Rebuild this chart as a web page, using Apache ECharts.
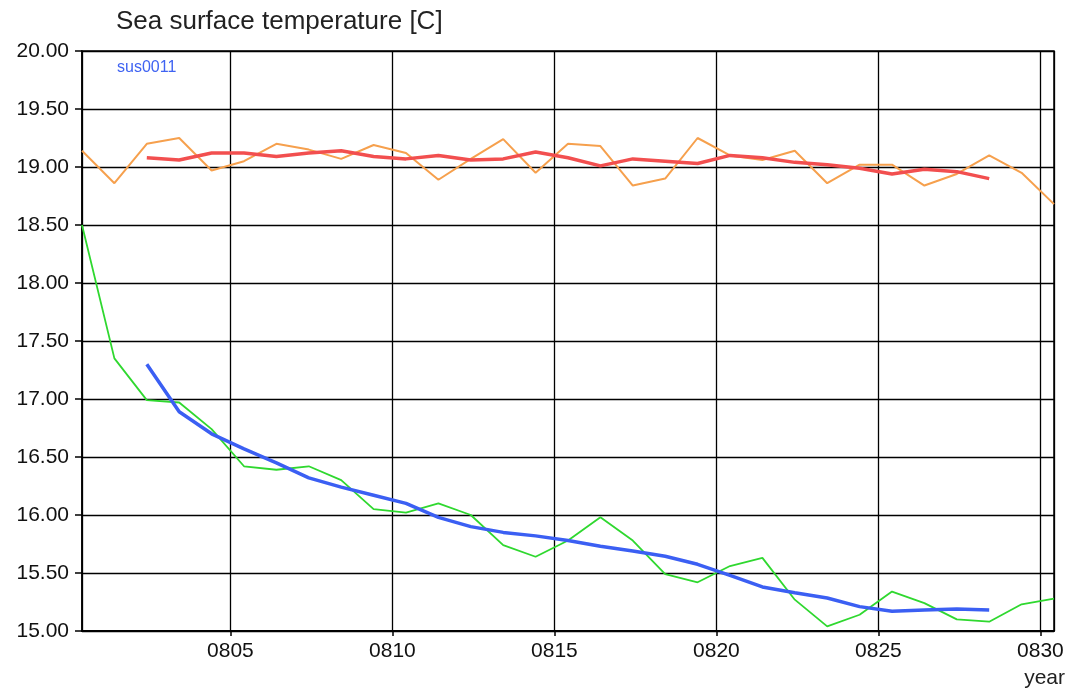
<!DOCTYPE html>
<html>
<head>
<meta charset="utf-8">
<title>Sea surface temperature</title>
<script src="https://cdn.jsdelivr.net/npm/echarts@6/dist/echarts.min.js"></script>
<style>
  html, body { margin: 0; padding: 0; background: #fff; }
  #chart { width: 1070px; height: 693px; }
</style>
</head>
<body>
<div id="chart"></div>
<script>
// Annual mean time stamps (model years)
const years = [
  800.42, 801.42, 802.42, 803.42, 804.42, 805.42, 806.42, 807.42, 808.42, 809.42,
  810.42, 811.42, 812.42, 813.42, 814.42, 815.42, 816.42, 817.42, 818.42, 819.42,
  820.42, 821.42, 822.42, 823.42, 824.42, 825.42, 826.42, 827.42, 828.42, 829.42,
  830.42
];

// Annual SST, upper run
const sstUpper = [
  19.14, 18.86, 19.20, 19.25, 18.97, 19.05, 19.20, 19.15, 19.07, 19.19,
  19.12, 18.89, 19.07, 19.24, 18.95, 19.20, 19.18, 18.84, 18.90, 19.25,
  19.10, 19.06, 19.14, 18.86, 19.02, 19.02, 18.84, 18.94, 19.10, 18.95,
  18.68
];
// Running mean of the upper run
const sstUpperMean = [
  null, null, 19.08, 19.06, 19.12, 19.12, 19.09, 19.12, 19.14, 19.09,
  19.07, 19.10, 19.06, 19.07, 19.13, 19.08, 19.01, 19.07, 19.05, 19.03,
  19.10, 19.08, 19.04, 19.02, 18.99, 18.94, 18.98, 18.96, 18.90, null,
  null
];
// Annual SST, lower run
const sstLower = [
  18.50, 17.35, 16.99, 16.97, 16.74, 16.42, 16.39, 16.42, 16.30, 16.05,
  16.02, 16.10, 16.00, 15.74, 15.64, 15.78, 15.98, 15.78, 15.49, 15.42,
  15.56, 15.63, 15.27, 15.04, 15.14, 15.34, 15.24, 15.10, 15.08, 15.23,
  15.28
];
// Running mean of the lower run
const sstLowerMean = [
  null, null, 17.30, 16.89, 16.70, 16.57, 16.45, 16.32, 16.24, 16.17,
  16.10, 15.98, 15.90, 15.85, 15.82, 15.78, 15.73, 15.69, 15.645, 15.575,
  15.48, 15.38, 15.33, 15.285, 15.21, 15.17, 15.18, 15.19, 15.18, null,
  null
];

const yTicks = { min: 15, max: 20, step: 0.5 };
const titleText = 'Sea surface temperature [C]';
const legendText = 'sus0011';
const xAxisName = 'year';

function pairs(vals) {
  const out = [];
  vals.forEach((v, i) => { if (v !== null) out.push([years[i], v]); });
  return out;
}

const labelFont = '"Liberation Sans", Arial, sans-serif';

const chart = echarts.init(document.getElementById('chart'), null, { renderer: 'canvas' });

chart.setOption({
  animation: false,
  backgroundColor: '#ffffff',
  grid: {
    left: 82, right: 16, top: 51, bottom: 62,
    show: true, borderColor: '#000', borderWidth: 1.5, backgroundColor: 'transparent'
  },
  graphic: [
    {
      type: 'text', left: 116, top: 9,
      style: { text: titleText, font: '26px ' + labelFont, fill: '#222' }
    },
    {
      type: 'text', left: 117, top: 60,
      style: { text: legendText, font: '16px ' + labelFont, fill: '#3f63f2' }
    },
    {
      type: 'text', right: 5, top: 668,
      style: { text: xAxisName, font: '21px ' + labelFont, fill: '#222' }
    }
  ],
  xAxis: {
    type: 'value',
    min: years[0],
    max: years[years.length - 1],
    minInterval: 5,
    maxInterval: 5,
    axisLine: { show: true, onZero: false, lineStyle: { color: '#000', width: 2 } },
    axisTick: { show: true, length: 5, lineStyle: { color: '#000', width: 1.5 } },
    axisLabel: {
      showMinLabel: false, showMaxLabel: false, margin: 10,
      color: '#111', fontSize: 21, fontFamily: labelFont,
      formatter: v => String(Math.round(v)).padStart(4, '0')
    },
    splitLine: { show: true, lineStyle: { color: '#000', width: 1.3 } }
  },
  yAxis: {
    type: 'value',
    min: yTicks.min, max: yTicks.max, interval: yTicks.step,
    axisLine: { show: true, lineStyle: { color: '#000', width: 1.5 } },
    axisTick: { show: true, length: 7, lineStyle: { color: '#000', width: 1.5 } },
    axisLabel: {
      margin: 13, color: '#111', fontSize: 21, fontFamily: labelFont,
      formatter: v => v.toFixed(2)
    },
    splitLine: { show: true, lineStyle: { color: '#000', width: 1.3 } }
  },
  series: [
    {
      name: 'upper', type: 'line', data: pairs(sstUpper), symbol: 'none',
      lineStyle: { color: '#f6a04d', width: 2 }, z: 3
    },
    {
      name: 'upper mean', type: 'line', data: pairs(sstUpperMean), symbol: 'none',
      lineStyle: { color: '#f24f4f', width: 3.5 }, z: 4
    },
    {
      name: 'lower', type: 'line', data: pairs(sstLower), symbol: 'none',
      lineStyle: { color: '#2fd82f', width: 1.8 }, z: 3
    },
    {
      name: 'lower mean', type: 'line', data: pairs(sstLowerMean), symbol: 'none',
      lineStyle: { color: '#3b5ff3', width: 3.5 }, z: 4
    }
  ]
});
</script>
</body>
</html>
